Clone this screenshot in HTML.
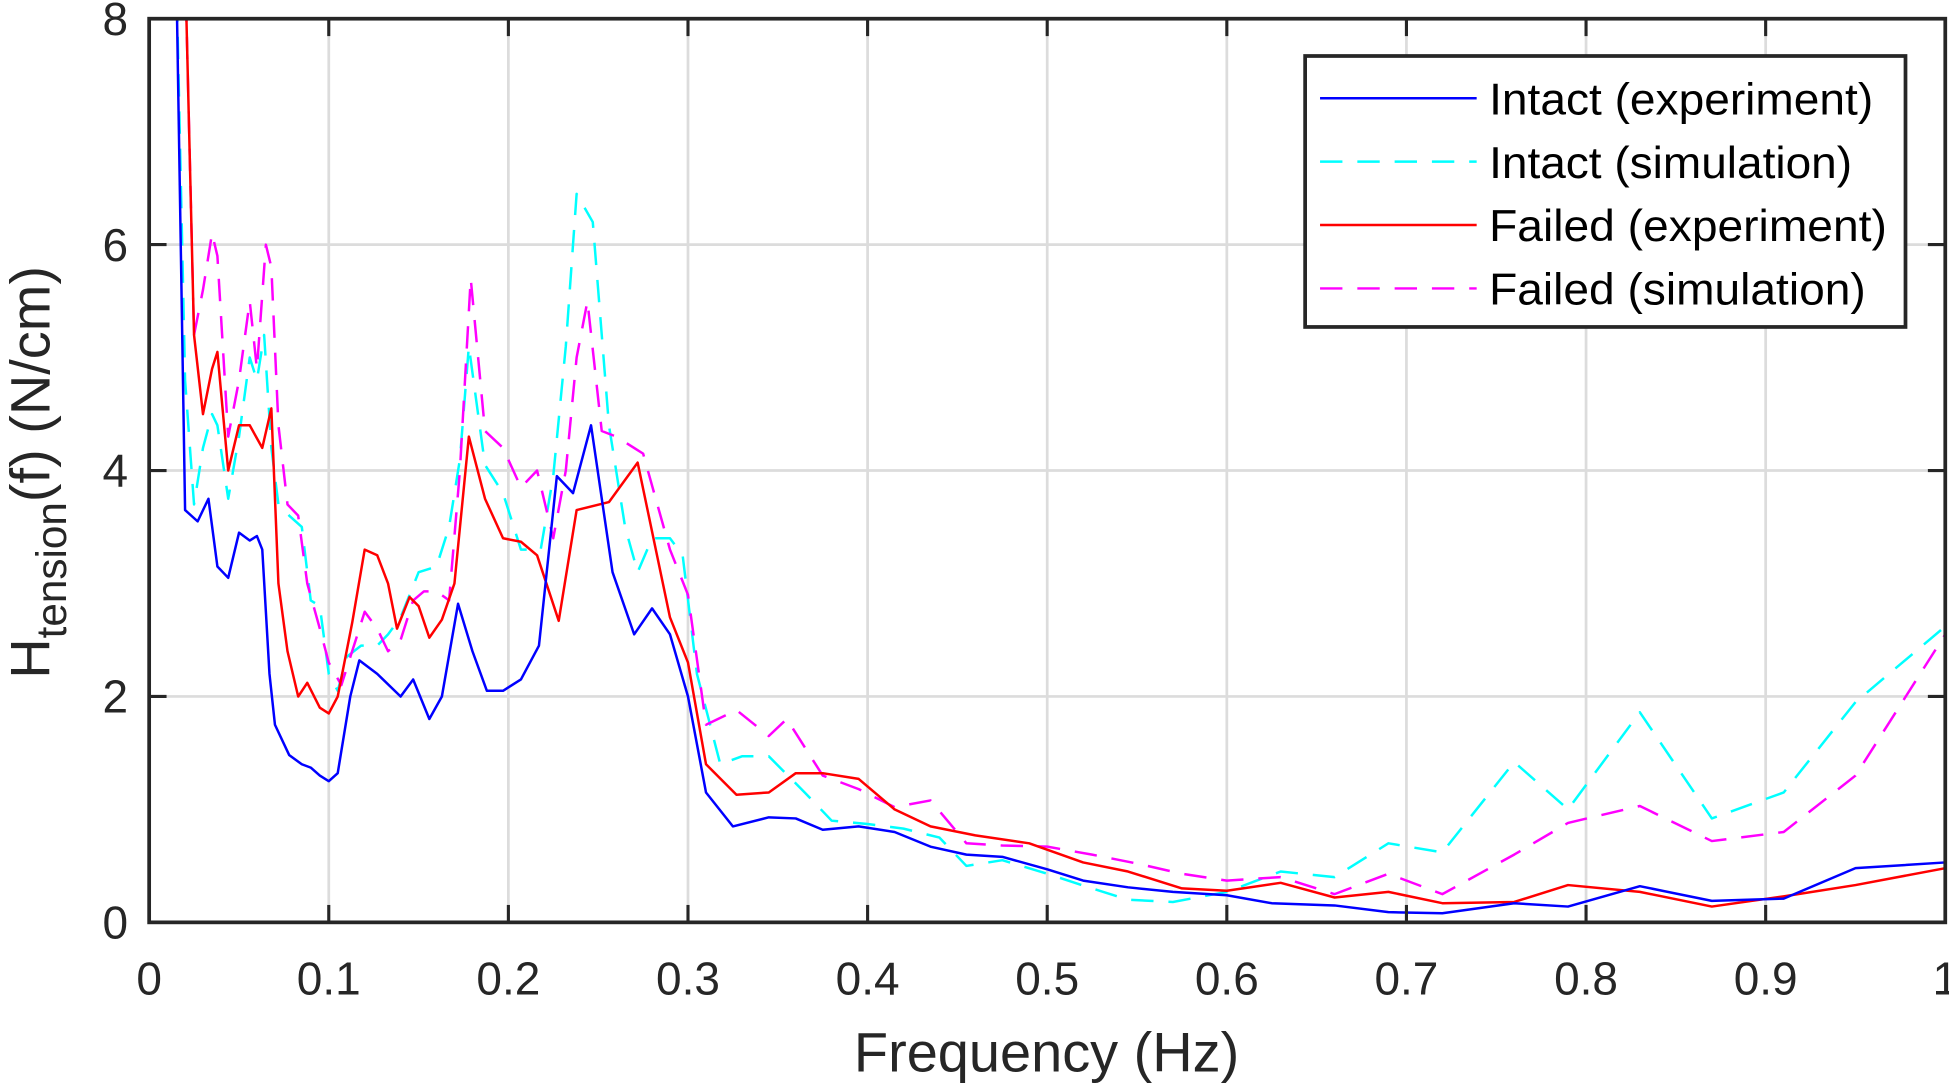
<!DOCTYPE html>
<html><head><meta charset="utf-8"><style>
html,body{margin:0;padding:0;background:#fff;}
svg{display:block;font-family:"Liberation Sans",Arial,sans-serif;}
</style></head><body>
<svg id="chart" width="1949" height="1084" viewBox="0 0 1568 872" xmlns="http://www.w3.org/2000/svg">
<defs><clipPath id="plotclip"><rect x="120" y="15" width="1445" height="727"/></clipPath></defs>
<rect x="0" y="0" width="1568" height="872" fill="#fff"/>
<g id="grid"></g>
<g id="series" clip-path="url(#plotclip)"></g>
<g id="axes"></g>
<text x="842" y="862" font-size="45" text-anchor="middle" fill="#262626">Frequency (Hz)</text>
<text transform="translate(40,380) rotate(-90)" font-size="45" text-anchor="middle" fill="#262626">H<tspan font-size="34" dy="13">tension</tspan><tspan dy="-13">(f) (N/cm)</tspan></text>
<g>
<rect x="1050" y="45" width="483" height="218" fill="#fff" stroke="#262626" stroke-width="3"/>
<line x1="1062" y1="79" x2="1188" y2="79" stroke="#0000ff" stroke-width="2"/>
<text x="1198" y="92" font-size="36" fill="#000" textLength="309" lengthAdjust="spacingAndGlyphs">Intact (experiment)</text>
<line x1="1062" y1="130" x2="1188" y2="130" stroke="#00ffff" stroke-width="2" stroke-dasharray="18,12"/>
<text x="1198" y="143" font-size="36" fill="#000" textLength="292" lengthAdjust="spacingAndGlyphs">Intact (simulation)</text>
<line x1="1062" y1="181" x2="1188" y2="181" stroke="#ff0000" stroke-width="2"/>
<text x="1198" y="194" font-size="36" fill="#000" textLength="320" lengthAdjust="spacingAndGlyphs">Failed (experiment)</text>
<line x1="1062" y1="232" x2="1188" y2="232" stroke="#ff00ff" stroke-width="2" stroke-dasharray="18,12"/>
<text x="1198" y="245" font-size="36" fill="#000" textLength="303" lengthAdjust="spacingAndGlyphs">Failed (simulation)</text>
</g>
</svg>
<script>
const xTicks=[0,0.1,0.2,0.3,0.4,0.5,0.6,0.7,0.8,0.9,1];
const xTickLabels=["0","0.1","0.2","0.3","0.4","0.5","0.6","0.7","0.8","0.9","1"];
const yTicks=[0,2,4,6,8];
const yTickLabels=["0","2","4","6","8"];

const intactExpF=[0.015,0.02,0.027,0.033,0.038,0.044,0.05,0.056,0.06,0.063,0.067,0.07,0.078,0.085,0.09,0.095,0.1,0.105,0.112,0.117,0.127,0.14,0.147,0.156,0.163,0.172,0.18,0.188,0.197,0.207,0.217,0.227,0.236,0.246,0.258,0.27,0.28,0.29,0.3,0.31,0.325,0.345,0.36,0.375,0.395,0.415,0.435,0.455,0.475,0.5,0.52,0.545,0.57,0.6,0.625,0.66,0.69,0.72,0.76,0.79,0.83,0.87,0.91,0.95,1.0];
const intactExpV=[8.5,3.65,3.55,3.75,3.15,3.05,3.45,3.38,3.42,3.3,2.2,1.75,1.48,1.4,1.37,1.3,1.25,1.32,2.0,2.32,2.2,2.0,2.15,1.8,2.0,2.82,2.4,2.05,2.05,2.15,2.45,3.95,3.8,4.4,3.1,2.55,2.78,2.55,2.0,1.15,0.85,0.93,0.92,0.82,0.85,0.8,0.67,0.6,0.58,0.47,0.37,0.31,0.27,0.24,0.17,0.15,0.09,0.08,0.17,0.14,0.32,0.19,0.21,0.48,0.53];

const intactSimF=[0.015,0.02,0.025,0.03,0.035,0.038,0.044,0.05,0.056,0.06,0.064,0.068,0.072,0.078,0.085,0.09,0.095,0.1,0.105,0.11,0.118,0.127,0.133,0.14,0.15,0.16,0.167,0.173,0.178,0.187,0.197,0.207,0.218,0.225,0.232,0.238,0.247,0.256,0.265,0.272,0.28,0.29,0.297,0.305,0.318,0.33,0.345,0.365,0.38,0.4,0.42,0.44,0.455,0.475,0.5,0.525,0.545,0.57,0.6,0.63,0.66,0.69,0.72,0.76,0.79,0.83,0.87,0.91,0.95,1.0];
const intactSimV=[8.5,4.8,3.7,4.2,4.5,4.4,3.75,4.3,5.0,4.8,5.2,4.2,3.7,3.6,3.5,2.85,2.8,2.2,2.05,2.35,2.45,2.45,2.55,2.7,3.1,3.15,3.5,4.1,5.1,4.05,3.8,3.3,3.3,3.95,5.1,6.45,6.2,4.4,3.5,3.1,3.4,3.4,3.25,2.2,1.4,1.47,1.47,1.15,0.9,0.87,0.83,0.75,0.5,0.55,0.43,0.3,0.2,0.18,0.27,0.45,0.4,0.7,0.62,1.42,1.0,1.86,0.92,1.15,1.95,2.62];

const failedExpF=[0.02,0.025,0.03,0.035,0.038,0.044,0.05,0.056,0.063,0.068,0.072,0.077,0.083,0.088,0.095,0.1,0.105,0.113,0.12,0.127,0.133,0.138,0.145,0.15,0.156,0.163,0.17,0.178,0.187,0.197,0.207,0.216,0.228,0.238,0.256,0.272,0.29,0.3,0.31,0.327,0.345,0.36,0.375,0.395,0.415,0.435,0.46,0.49,0.52,0.545,0.575,0.6,0.63,0.66,0.69,0.72,0.76,0.79,0.83,0.87,0.91,0.95,1.0];
const failedExpV=[8.5,5.2,4.5,4.9,5.05,4.0,4.4,4.4,4.2,4.55,3.0,2.4,2.0,2.12,1.9,1.85,2.0,2.65,3.3,3.25,3.0,2.6,2.88,2.8,2.52,2.68,3.0,4.3,3.75,3.4,3.37,3.25,2.67,3.65,3.72,4.07,2.7,2.3,1.4,1.13,1.15,1.32,1.32,1.27,1.0,0.85,0.77,0.7,0.53,0.45,0.3,0.28,0.35,0.22,0.27,0.17,0.18,0.33,0.27,0.14,0.23,0.33,0.48];

const failedSimF=[0.02,0.025,0.03,0.035,0.038,0.044,0.05,0.056,0.06,0.065,0.068,0.072,0.077,0.083,0.088,0.095,0.1,0.107,0.115,0.12,0.127,0.133,0.14,0.147,0.153,0.16,0.167,0.173,0.179,0.187,0.197,0.207,0.216,0.225,0.232,0.238,0.244,0.252,0.26,0.275,0.29,0.3,0.31,0.327,0.345,0.355,0.375,0.395,0.415,0.435,0.455,0.475,0.5,0.525,0.55,0.575,0.6,0.63,0.66,0.69,0.72,0.76,0.79,0.83,0.87,0.91,0.95,1.0];
const failedSimV=[8.5,5.2,5.6,6.1,5.9,4.3,4.8,5.5,4.9,6.0,5.8,4.4,3.7,3.6,3.0,2.6,2.3,2.1,2.5,2.75,2.6,2.4,2.5,2.85,2.93,2.93,2.85,4.0,5.7,4.35,4.2,3.85,4.0,3.4,4.0,5.0,5.5,4.35,4.3,4.15,3.3,2.9,1.75,1.88,1.65,1.8,1.3,1.18,1.02,1.08,0.7,0.68,0.67,0.6,0.52,0.43,0.37,0.4,0.25,0.43,0.25,0.6,0.88,1.03,0.72,0.8,1.3,2.55];

const X0=120,X1=1565,Y0=742,Y1=15;
function sx(f){return X0+(X1-X0)*f;}
function sy(v){return Y0-(Y0-Y1)*v/8;}
const NS="http://www.w3.org/2000/svg";
function mk(tag,attrs,parent){const e=document.createElementNS(NS,tag);for(const k in attrs)e.setAttribute(k,attrs[k]);parent.appendChild(e);return e;}
const grid=document.getElementById('grid'),axes=document.getElementById('axes'),series=document.getElementById('series');
xTicks.forEach((t,i)=>{
  const gl=mk('line',{x1:sx(t),x2:sx(t),y1:Y1,y2:Y0,stroke:'#dcdcdc','stroke-width':2.2},grid);
  
  
  const tb=mk('line',{x1:sx(t),x2:sx(t),y1:Y0,y2:Y0-14,stroke:'#262626','stroke-width':2.5},axes);
  
  
  const tt=mk('line',{x1:sx(t),x2:sx(t),y1:Y1,y2:Y1+14,stroke:'#262626','stroke-width':2.5},axes);
  
  
  const lb=mk('text',{x:sx(t),y:800,'font-size':37,'text-anchor':'middle',fill:'#262626'},axes);
  lb.textContent=xTickLabels[i];
  
  
});
yTicks.forEach((t,i)=>{
  const gl=mk('line',{x1:X0,x2:X1,y1:sy(t),y2:sy(t),stroke:'#dcdcdc','stroke-width':2.2},grid);
  
  
  const tl=mk('line',{x1:X0,x2:X0+14,y1:sy(t),y2:sy(t),stroke:'#262626','stroke-width':2.5},axes);
  
  
  const tr=mk('line',{x1:X1,x2:X1-14,y1:sy(t),y2:sy(t),stroke:'#262626','stroke-width':2.5},axes);
  
  
  const lb=mk('text',{x:103,y:sy(t)+13,'font-size':37,'text-anchor':'end',fill:'#262626'},axes);
  lb.textContent=yTickLabels[i];
  
  
});
const box=mk('rect',{x:X0,y:Y1,width:X1-X0,height:Y0-Y1,fill:'none',stroke:'#262626','stroke-width':3},axes);


function line(F,V,color,dash,name){
  const pts=F.map((f,i)=>sx(f).toFixed(1)+','+sy(V[i]).toFixed(1)).join(' ');
  const a={points:pts,fill:'none',stroke:color,'stroke-width':2,'stroke-linejoin':'round'};
  if(dash)a['stroke-dasharray']=dash;
  const p=mk('polyline',a,series);
  
  
}
line(intactSimF,intactSimV,'#00ffff','18,12','series-intact-simulation');
line(failedSimF,failedSimV,'#ff00ff','18,12','series-failed-simulation');
line(failedExpF,failedExpV,'#ff0000',null,'series-failed-experiment');
line(intactExpF,intactExpV,'#0000ff',null,'series-intact-experiment');
</script>
</body></html>
